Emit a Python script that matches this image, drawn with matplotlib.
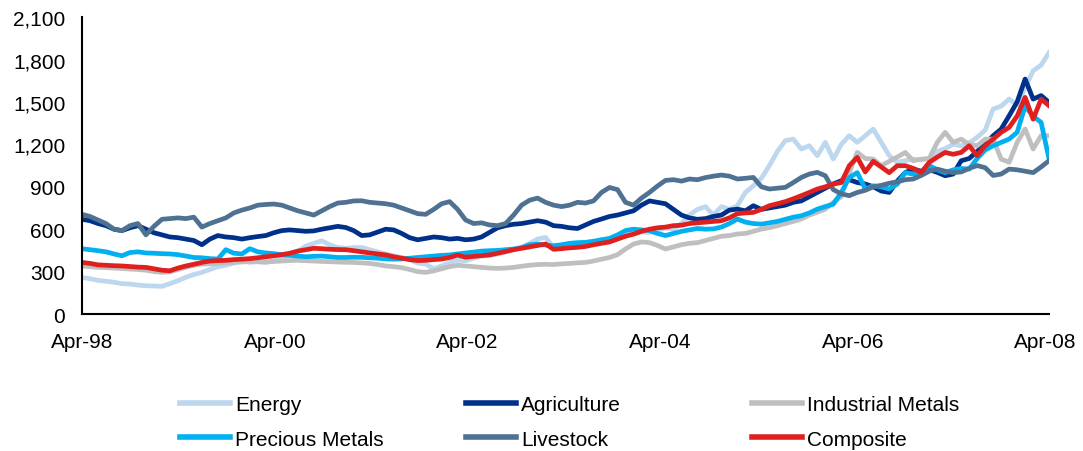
import numpy as np
import pandas as pd
import matplotlib
matplotlib.use('Agg')
import matplotlib.pyplot as plt
import matplotlib.dates as mdates
from matplotlib.ticker import FuncFormatter, MultipleLocator

plt.rcParams['font.family'] = ['Liberation Sans', 'DejaVu Sans']

# index levels, roughly monthly samples Apr-98 .. mid Apr-08
dates = pd.date_range('1998-04-01', '2008-04-14', periods=122)

energy = [
    259, 250, 238, 232, 225, 215, 212, 205, 200, 198,
    196, 215, 236, 260, 280, 295, 315, 335, 345, 360,
    377, 365, 370, 365, 375, 395, 420, 445, 480, 500,
    518, 490, 470, 464, 470, 471, 455, 440, 425, 412,
    400, 385, 360, 353, 320, 340, 365, 380, 377, 395,
    410, 415, 425, 440, 455, 470, 500, 530, 542, 470,
    480, 470, 485, 500, 510, 525, 530, 540, 555, 570,
    580, 577, 590, 610, 600, 640, 700, 740, 760, 700,
    760, 740, 766, 860, 907, 960, 1049, 1150, 1226, 1237,
    1167, 1190, 1120, 1214, 1096, 1200, 1261, 1214, 1261, 1308,
    1214, 1120, 1073, 1085, 1096, 1090, 1100, 1150, 1170, 1200,
    1190, 1210, 1250, 1300, 1450, 1470, 1520, 1480, 1600, 1720,
    1760, 1850,
]
agriculture = [
    670, 660, 640, 625, 600, 590, 610, 625, 600, 575,
    560, 545, 540, 530, 520, 490, 530, 555, 545, 540,
    530, 540, 548, 555, 575, 590, 595, 590, 585, 588,
    600, 610, 620, 612, 590, 555, 560, 580, 600, 595,
    570, 540, 525, 535, 545, 540, 530, 535, 525, 530,
    545, 578, 610, 625, 635, 640, 650, 660, 650, 625,
    620, 610, 605, 630, 655, 672, 690, 700, 715, 730,
    770, 800, 790, 780, 740, 700, 680, 670, 675, 690,
    700, 735, 742, 730, 766, 740, 750, 760, 770, 790,
    800, 830, 860, 890, 920, 943, 950, 930, 920, 900,
    870, 860, 940, 1000, 1025, 1010, 1020, 1002, 978, 990,
    1084, 1100, 1150, 1200, 1261, 1308, 1402, 1500, 1662, 1520,
    1545, 1497,
]
industrial_metals = [
    340, 335, 330, 328, 325, 322, 318, 315, 310, 300,
    295, 298, 315, 330, 345, 353, 355, 358, 362, 365,
    368, 372, 370, 368, 372, 375, 378, 380, 377, 375,
    372, 370, 368, 366, 365, 362, 358, 350, 340, 335,
    328, 315, 300, 295, 305, 320, 335, 345, 340, 335,
    330, 325, 323, 325, 330, 338, 345, 350, 352, 350,
    355, 358, 362, 365, 375, 388, 400, 420, 460, 495,
    510, 505, 485, 460, 475, 490, 500, 505, 520, 535,
    550, 555, 566, 570, 585, 601, 610, 625, 640, 655,
    672, 700, 720, 742, 790, 830, 1000, 1143, 1100, 1096,
    1049, 1080, 1110, 1143, 1084, 1095, 1100, 1214, 1285, 1214,
    1237, 1200, 1190, 1237, 1237, 1096, 1073, 1214, 1308, 1167,
    1261, 1261,
]
precious_metals = [
    462, 455, 448, 440, 425, 412, 435, 440, 432, 430,
    427, 425, 420, 410, 400, 398, 392, 389, 455, 430,
    425, 462, 440, 432, 427, 420, 415, 410, 405, 408,
    410, 405, 400, 400, 402, 401, 398, 395, 390, 388,
    390, 395, 400, 405, 410, 415, 418, 425, 432, 438,
    445, 448, 450, 455, 460, 470, 490, 495, 488, 483,
    490, 500, 505, 507, 515, 525, 535, 560, 590, 600,
    595, 590, 570, 555, 570, 585, 595, 605, 600, 602,
    615, 640, 672, 650, 640, 636, 645, 655, 670, 685,
    695, 715, 742, 760, 777, 860, 966, 1000, 884, 907,
    900, 884, 919, 1000, 990, 1000, 1050, 1020, 1000, 1020,
    1030, 1025, 1100, 1160, 1190, 1214, 1237, 1285, 1470, 1400,
    1355, 1096,
]
livestock = [
    705, 690, 665, 640, 600, 590, 625, 640, 560, 620,
    670, 675, 680, 675, 685, 615, 640, 660, 680, 715,
    735, 750, 770, 775, 778, 770, 750, 730, 715, 700,
    730, 760, 785, 790, 800, 801, 790, 785, 780, 770,
    750, 730, 710, 705, 740, 780, 795, 740, 665, 640,
    645, 630, 625, 640, 700, 770, 805, 820, 790, 770,
    760, 770, 790, 785, 800, 860, 895, 880, 790, 770,
    820, 860, 905, 945, 950, 940, 955, 950, 965, 975,
    983, 975, 955, 960, 966, 900, 884, 890, 896, 930,
    966, 990, 1002, 978, 880, 850, 837, 860, 875, 900,
    910, 925, 935, 950, 955, 980, 1010, 1025, 1010, 1000,
    1005, 1030, 1050, 1035, 980, 990, 1025, 1020, 1010, 1000,
    1040, 1085,
]
composite = [
    365, 358, 348, 345, 342, 340, 336, 332, 330, 320,
    310, 306, 325, 340, 352, 365, 375, 378, 380, 385,
    388, 392, 398, 405, 412, 420, 430, 445, 455, 465,
    462, 458, 456, 455, 448, 440, 432, 425, 418, 405,
    395, 385, 378, 380, 385, 389, 400, 417, 402, 408,
    413, 418, 430, 442, 455, 465, 475, 485, 495, 458,
    462, 468, 472, 478, 490, 500, 510, 530, 550, 565,
    585, 600, 610, 615, 625, 628, 640, 645, 650, 655,
    660, 680, 710, 715, 719, 740, 766, 780, 795, 815,
    837, 860, 884, 900, 919, 930, 1049, 1108, 1005, 1080,
    1040, 1000, 1049, 1049, 1030, 1002, 1072, 1110, 1143, 1130,
    1143, 1190, 1120, 1190, 1237, 1285, 1320, 1400, 1532, 1378,
    1520, 1473,
]

series = [
    ('Energy', energy, '#bdd7ee'),
    ('Agriculture', agriculture, '#00318a'),
    ('Industrial Metals', industrial_metals, '#bfbfbf'),
    ('Precious Metals', precious_metals, '#00b0f0'),
    ('Livestock', livestock, '#4f7192'),
    ('Composite', composite, '#e0201e'),
]

fig = plt.figure(figsize=(10.83, 4.52), dpi=100)
ax = fig.add_axes([0.0757, 0.303, 0.893, 0.657])

handles = []
for name, vals, col in series:
    h, = ax.plot(dates, vals, color=col, lw=3.4, label=name,
                 solid_joinstyle='round')
    handles.append(h)

ax.set_ylim(0, 2100)
ax.yaxis.set_major_locator(MultipleLocator(300))
ax.yaxis.set_major_formatter(FuncFormatter(lambda v, p: f'{v:,.0f}'))
ax.set_xlim(dates[0], dates[-1])
ax.xaxis.set_major_locator(mdates.YearLocator(base=2, month=4, day=1))
ax.xaxis.set_major_formatter(mdates.DateFormatter('%b-%y'))

for s in ['top', 'right']:
    ax.spines[s].set_visible(False)
for s in ['left', 'bottom']:
    ax.spines[s].set_linewidth(1.5)
    ax.spines[s].set_color('black')
ax.tick_params(axis='y', length=0, pad=12, labelsize=15)
ax.tick_params(axis='x', length=0, pad=13, labelsize=15)

# legend: three columns, each anchored at its own x so the columns are evenly spaced
cols = [(0, 3), (1, 4), (2, 5)]
xs = [180 / 1083, 466 / 1083, 752 / 1083]
for (a, b), x0 in zip(cols, xs):
    leg = fig.legend([handles[a], handles[b]],
                     [series[a][0], series[b][0]],
                     loc='upper left', bbox_to_anchor=(x0, 1 - 396 / 452),
                     frameon=False, fontsize=15, handlelength=2.4,
                     handletextpad=0.25, labelspacing=0.75,
                     borderaxespad=0, borderpad=0)
    for lh in leg.get_lines():
        lh.set_linewidth(4)

fig.savefig('out.png', dpi=100)
